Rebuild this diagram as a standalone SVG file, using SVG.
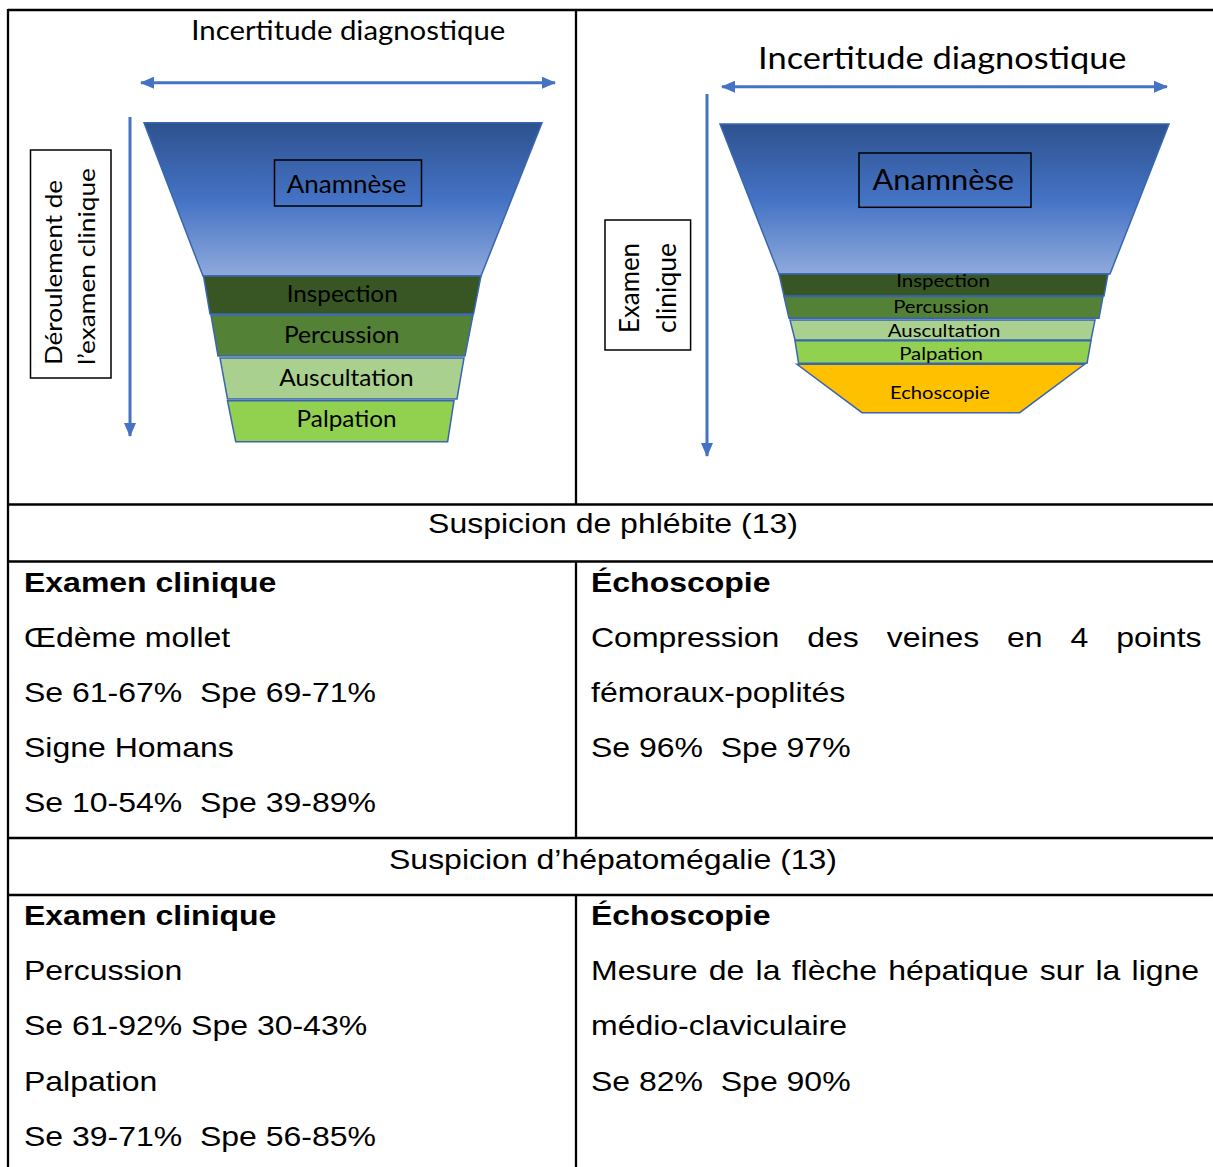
<svg xmlns="http://www.w3.org/2000/svg" width="1213" height="1167" viewBox="0 0 1213 1167">
<style>
.grid{stroke:#000;stroke-width:2.3;fill:none}
.t{font-family:"Liberation Sans",Arial,sans-serif;font-size:32px;fill:#000}
.b{font-weight:bold}
.f{font-family:Lato,"Open Sans",sans-serif;fill:#000}
.band{stroke:#3A66B0;stroke-width:1.5}
.box{fill:none;stroke:#000;stroke-width:1.5}
.lbl{fill:#fff;stroke:#000;stroke-width:1.5}
.arr{stroke:#4472C4;stroke-width:3;fill:none}
</style>
<defs>
<linearGradient id="gBlue" x1="0" y1="0" x2="0" y2="1">
<stop offset="0" stop-color="#2E528F"/>
<stop offset="0.5" stop-color="#4472C4"/>
<stop offset="1" stop-color="#8FAADC"/>
</linearGradient>
<marker id="ah" markerUnits="userSpaceOnUse" markerWidth="14" markerHeight="12" refX="13" refY="6" orient="auto-start-reverse">
<path d="M0,0 L14,6 L0,12 z" fill="#4472C4"/>
</marker>
</defs>
<rect width="1213" height="1167" fill="#fff"/>

<g id="table-grid">
<line class="grid" x1="8" y1="10" x2="1213" y2="10"/>
<line class="grid" x1="8" y1="9" x2="8" y2="1167"/>
<line class="grid" x1="576" y1="10" x2="576" y2="504.5"/>
<line class="grid" x1="8" y1="504.5" x2="1213" y2="504.5"/>
<line class="grid" x1="8" y1="561.5" x2="1213" y2="561.5"/>
<line class="grid" x1="576" y1="561.5" x2="576" y2="838"/>
<line class="grid" x1="8" y1="838" x2="1213" y2="838"/>
<line class="grid" x1="8" y1="895" x2="1213" y2="895"/>
<line class="grid" x1="576" y1="895" x2="576" y2="1167"/>
</g>

<g id="connectors">
<line class="arr" x1="141" y1="82.7" x2="555" y2="82.7" marker-start="url(#ah)" marker-end="url(#ah)"/>
<line class="arr" x1="130" y1="117" x2="130" y2="436" marker-end="url(#ah)"/>
<line class="arr" x1="722" y1="86.7" x2="1167" y2="86.7" marker-start="url(#ah)" marker-end="url(#ah)"/>
<line class="arr" x1="707" y1="94" x2="707" y2="456" marker-end="url(#ah)"/>
</g>

<g id="left-funnel">
<text class="f" x="348.3" y="39.5" font-size="26" text-anchor="middle" textLength="314" lengthAdjust="spacingAndGlyphs">Incertitude diagnostique</text>
<g id="left-label">
<rect class="lbl" x="30.5" y="150" width="80.5" height="228"/>
<text class="f" transform="translate(61.5 365) rotate(-90)" font-size="24" textLength="185" lengthAdjust="spacingAndGlyphs">Déroulement de</text>
<text class="f" transform="translate(94.5 365) rotate(-90)" font-size="24" textLength="197" lengthAdjust="spacingAndGlyphs">l’examen clinique</text>
</g>
<g id="left-anamnese">
<polygon class="band" points="144,122.7 542,122.7 481,276 203,276" fill="url(#gBlue)"/>
<rect class="box" x="274.5" y="160" width="147" height="46"/>
<text class="f" x="346.5" y="192.7" font-size="24.5" text-anchor="middle" textLength="119.5" lengthAdjust="spacingAndGlyphs">Anamnèse</text>
</g>
<g id="left-inspection">
<polygon class="band" points="203.5,276 481,276 473.5,314 210,314" fill="#375623"/>
<text class="f" x="342.2" y="302" font-size="23" text-anchor="middle" textLength="111" lengthAdjust="spacingAndGlyphs">Inspection</text>
</g>
<g id="left-percussion">
<polygon class="band" points="211,315 473,315 465,356 218,356" fill="#538135"/>
<text class="f" x="341.8" y="342.7" font-size="23" text-anchor="middle" textLength="115.5" lengthAdjust="spacingAndGlyphs">Percussion</text>
</g>
<g id="left-auscultation">
<polygon class="band" points="220,358 464,358 457,399 227.5,399" fill="#A9D08E"/>
<text class="f" x="346.5" y="386" font-size="23" text-anchor="middle" textLength="134.3" lengthAdjust="spacingAndGlyphs">Auscultation</text>
</g>
<g id="left-palpation">
<polygon class="band" points="227.5,400.7 454,400.7 447.6,441.7 235.7,441.7" fill="#92D050"/>
<text class="f" x="346.6" y="426.7" font-size="23" text-anchor="middle" textLength="100" lengthAdjust="spacingAndGlyphs">Palpation</text>
</g>
</g>

<g id="right-funnel">
<text class="f" x="942.3" y="68.5" font-size="30" text-anchor="middle" textLength="368.5" lengthAdjust="spacingAndGlyphs">Incertitude diagnostique</text>
<g id="right-label">
<rect class="lbl" x="605" y="220" width="85.6" height="130"/>
<text class="f" transform="translate(639 333) rotate(-90)" font-size="27" textLength="90" lengthAdjust="spacingAndGlyphs">Examen</text>
<text class="f" transform="translate(675.5 333) rotate(-90)" font-size="27" textLength="90" lengthAdjust="spacingAndGlyphs">clinique</text>
</g>
<g id="right-anamnese">
<polygon class="band" points="720,124 1169,124 1110,274 779,274" fill="url(#gBlue)"/>
<rect class="box" x="859" y="153" width="172" height="54.3"/>
<text class="f" x="943.3" y="190" font-size="28" text-anchor="middle" textLength="141.4" lengthAdjust="spacingAndGlyphs">Anamnèse</text>
</g>
<g id="right-inspection">
<polygon class="band" points="779,274 1108,274 1104,296 784,296" fill="#375623"/>
<text class="f" x="943" y="287.3" font-size="17" text-anchor="middle" textLength="93.7" lengthAdjust="spacingAndGlyphs">Inspection</text>
</g>
<g id="right-percussion">
<polygon class="band" points="784,296.5 1103,296.5 1099,318.3 789,318.3" fill="#538135"/>
<text class="f" x="941" y="313.3" font-size="17" text-anchor="middle" textLength="95.7" lengthAdjust="spacingAndGlyphs">Percussion</text>
</g>
<g id="right-auscultation">
<polygon class="band" points="790,320 1095,320 1091,340 795,340" fill="#A9D08E"/>
<text class="f" x="944" y="336.7" font-size="17" text-anchor="middle" textLength="112.6" lengthAdjust="spacingAndGlyphs">Auscultation</text>
</g>
<g id="right-palpation">
<polygon class="band" points="795,340.7 1091,340.7 1087,363.3 798.6,363.3" fill="#92D050"/>
<text class="f" x="941" y="360" font-size="17" text-anchor="middle" textLength="83.7" lengthAdjust="spacingAndGlyphs">Palpation</text>
</g>
<g id="right-echoscopie">
<polygon class="band" points="797,364.3 1084.6,364.3 1019.6,412.7 862,412.7" fill="#FFC000"/>
<text class="f" x="940" y="399.3" font-size="17" text-anchor="middle" textLength="99.9" lengthAdjust="spacingAndGlyphs">Echoscopie</text>
</g>
</g>

<g id="table-phlebite">
<text class="t" transform="translate(613 533) scale(1 .875)" text-anchor="middle">Suspicion de phlébite (13)</text>
<text class="t b" transform="translate(24 591.5) scale(1 .875)">Examen clinique</text>
<text class="t" transform="translate(24 646.7) scale(1 .875)">Œdème mollet</text>
<text class="t" xml:space="preserve" transform="translate(24 701.9) scale(1 .875)">Se 61-67%  Spe 69-71%</text>
<text class="t" transform="translate(24 757.1) scale(1 .875)">Signe Homans</text>
<text class="t" xml:space="preserve" transform="translate(24 812.3) scale(1 .875)">Se 10-54%  Spe 39-89%</text>
<text class="t b" transform="translate(591 591.5) scale(1 .875)">Échoscopie</text>
<text class="t" word-spacing="19" transform="translate(591 646.7) scale(1 .875)">Compression des veines en 4 points</text>
<text class="t" transform="translate(591 701.9) scale(1 .875)">fémoraux-poplités</text>
<text class="t" xml:space="preserve" transform="translate(591 757.1) scale(1 .875)">Se 96%  Spe 97%</text>
</g>

<g id="table-hepatomegalie">
<text class="t" transform="translate(613 868.5) scale(1 .875)" text-anchor="middle">Suspicion d’hépatomégalie (13)</text>
<text class="t b" transform="translate(24 925) scale(1 .875)">Examen clinique</text>
<text class="t" transform="translate(24 980.2) scale(1 .875)">Percussion</text>
<text class="t" transform="translate(24 1035.4) scale(1 .875)">Se 61-92% Spe 30-43%</text>
<text class="t" transform="translate(24 1090.6) scale(1 .875)">Palpation</text>
<text class="t" xml:space="preserve" transform="translate(24 1145.8) scale(1 .875)">Se 39-71%  Spe 56-85%</text>
<text class="t b" transform="translate(591 925) scale(1 .875)">Échoscopie</text>
<text class="t" word-spacing="2.3" transform="translate(591 980.2) scale(1 .875)">Mesure de la flèche hépatique sur la ligne</text>
<text class="t" transform="translate(591 1035.4) scale(1 .875)">médio-claviculaire</text>
<text class="t" xml:space="preserve" transform="translate(591 1090.6) scale(1 .875)">Se 82%  Spe 90%</text>
</g>
</svg>
